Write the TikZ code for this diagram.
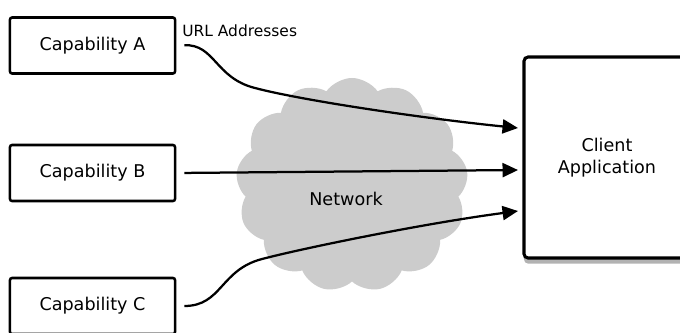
\documentclass[tikz,border=0pt]{standalone}
\usepackage{fontspec}
\setmainfont{DejaVu Sans}
\usetikzlibrary{arrows.meta,shapes.symbols,shadows}

\begin{document}
\begin{tikzpicture}[x=0.025cm,y=-0.025cm,
    font=\fontsize{12.5}{15.6}\selectfont,
    capbox/.style={draw,line width=1.8pt,rounded corners=1.5pt,minimum width=4.125cm,minimum height=1.4cm,inner sep=0pt},
    flecha/.style={line width=1.6pt,shorten <=0.2cm,-{Triangle[length=11pt,width=10pt]}}]
  \useasboundingbox (0,0) rectangle (680,332);
  \clip (0,0) rectangle (680,332);
  % Nube: la red
  \node[cloud,cloud puffs=13,cloud puff arc=110,aspect=1.09,fill=gray!40,
        minimum width=5.8cm,minimum height=5.35cm,inner sep=0pt] (red) at (352,185) {};
  \node (redtxt) at (346,199) {Network};
  % Capacidades
  \node[capbox] (capA) at (92.5,45.5) {Capability A};
  \node[capbox] (capB) at (92.5,173) {Capability B};
  \node[capbox] (capC) at (92.5,306) {Capability C};
  \node[anchor=west,inner sep=0pt,font=\fontsize{11}{13}\selectfont] (url) at (182,31) {URL Addresses};
  % Cliente
  \node[draw,line width=2.2pt,rounded corners=3pt,minimum width=4.15cm,minimum height=5.025cm,
        align=center,fill=white,drop shadow={shadow xshift=0pt,shadow yshift=-4pt,fill=gray!60,opacity=1}] (client) at (607,157.5) {Client\\Application};
  \coordinate (inA) at (518,128);
  \coordinate (inB) at (518,170);
  \coordinate (inC) at (518,211);
  % Flechas
  \draw[flecha] (capA.east) .. controls (215,44) and (215,78) .. (255,88)
                .. controls (300,100) and (420,118) .. (inA);
  \draw[flecha] (capB.east) -- (inB);
  \draw[flecha] (capC.east) .. controls (222,306) and (220,270) .. (262,259)
                .. controls (300,249) and (420,224) .. (inC);
\end{tikzpicture}
\end{document}
